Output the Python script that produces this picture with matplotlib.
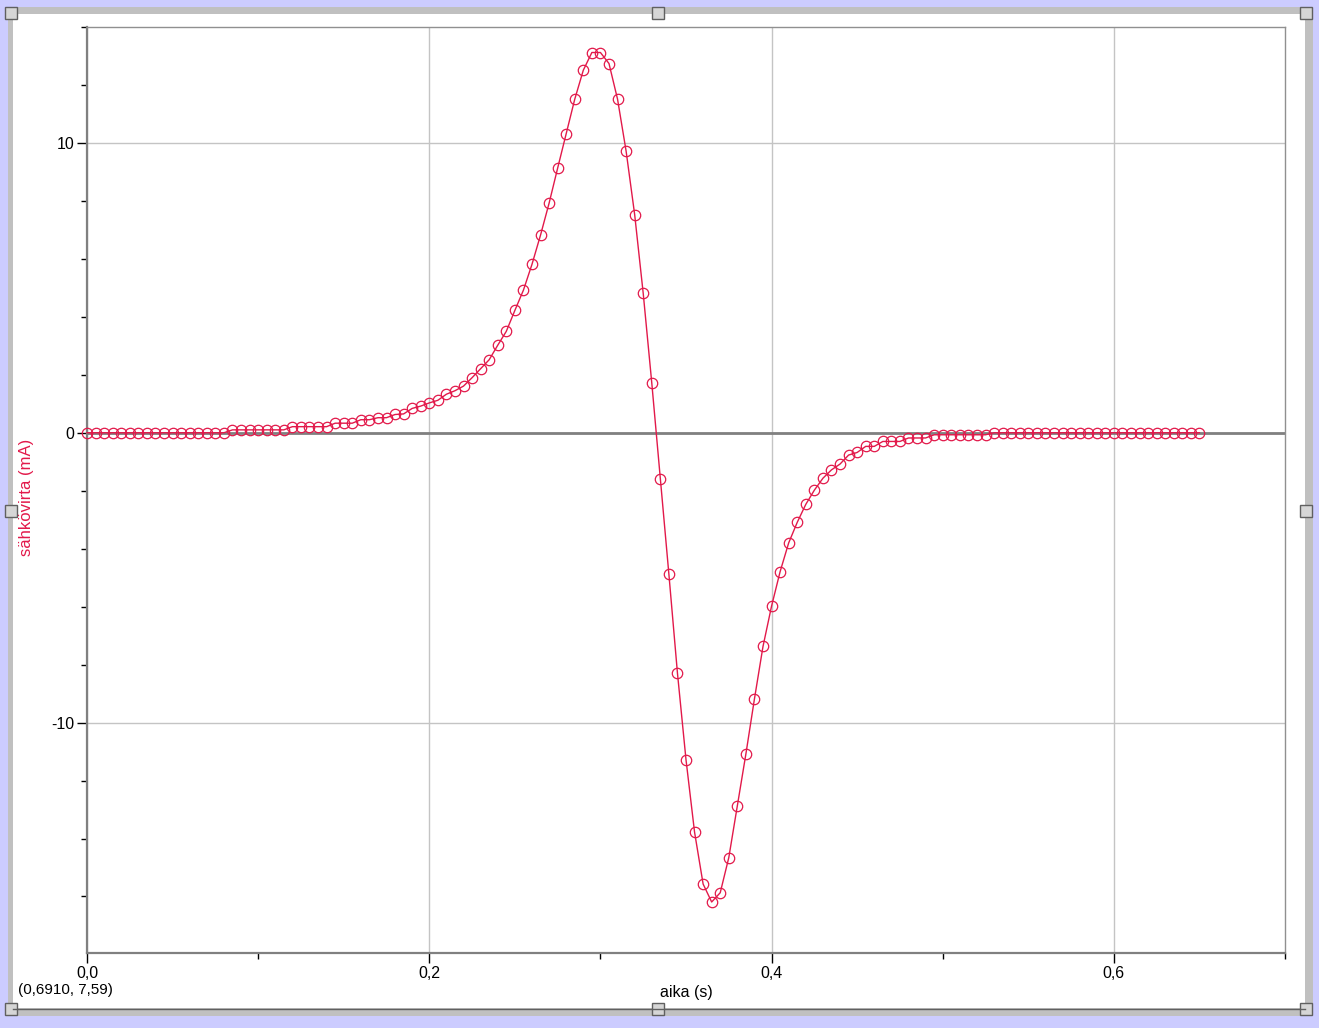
import matplotlib
matplotlib.use("Agg")
import matplotlib.pyplot as plt
from matplotlib.patches import Rectangle
from matplotlib.ticker import MultipleLocator, FixedLocator

plt.rcParams['font.family'] = ['Liberation Sans', 'DejaVu Sans']

# ---- data ----
time_s = [
    0.000, 0.005, 0.010, 0.015, 0.020, 0.025, 0.030, 0.035, 0.040, 0.045,
    0.050, 0.055, 0.060, 0.065, 0.070, 0.075, 0.080, 0.085, 0.090, 0.095,
    0.100, 0.105, 0.110, 0.115, 0.120, 0.125, 0.130, 0.135, 0.140, 0.145,
    0.150, 0.155, 0.160, 0.165, 0.170, 0.175, 0.180, 0.185, 0.190, 0.195,
    0.200, 0.205, 0.210, 0.215, 0.220, 0.225, 0.230, 0.235, 0.240, 0.245,
    0.250, 0.255, 0.260, 0.265, 0.270, 0.275, 0.280, 0.285, 0.290, 0.295,
    0.300, 0.305, 0.310, 0.315, 0.320, 0.325, 0.330, 0.335, 0.340, 0.345,
    0.350, 0.355, 0.360, 0.365, 0.370, 0.375, 0.380, 0.385, 0.390, 0.395,
    0.400, 0.405, 0.410, 0.415, 0.420, 0.425, 0.430, 0.435, 0.440, 0.445,
    0.450, 0.455, 0.460, 0.465, 0.470, 0.475, 0.480, 0.485, 0.490, 0.495,
    0.500, 0.505, 0.510, 0.515, 0.520, 0.525, 0.530, 0.535, 0.540, 0.545,
    0.550, 0.555, 0.560, 0.565, 0.570, 0.575, 0.580, 0.585, 0.590, 0.595,
    0.600, 0.605, 0.610, 0.615, 0.620, 0.625, 0.630, 0.635, 0.640, 0.645,
    0.650,
]
current_mA = [
    0.00, 0.00, 0.00, 0.00, 0.00, 0.00, 0.00, 0.00, 0.00, 0.00,
    0.00, 0.00, 0.00, 0.00, 0.00, 0.00, 0.00, 0.10, 0.10, 0.10,
    0.10, 0.10, 0.10, 0.10, 0.21, 0.21, 0.21, 0.21, 0.21, 0.33,
    0.33, 0.33, 0.45, 0.45, 0.52, 0.52, 0.63, 0.65, 0.84, 0.92,
    1.03, 1.12, 1.33, 1.45, 1.61, 1.90, 2.21, 2.52, 3.02, 3.50,
    4.22, 4.92, 5.81, 6.82, 7.92, 9.13, 10.32, 11.51, 12.51, 13.12,
    13.12, 12.74, 11.51, 9.72, 7.53, 4.81, 1.72, -1.58, -4.88, -8.29,
    -11.28, -13.78, -15.57, -16.19, -15.87, -14.66, -12.87, -11.08, -9.18, -7.37,
    -5.98, -4.79, -3.80, -3.09, -2.47, -1.98, -1.57, -1.28, -1.08, -0.77,
    -0.68, -0.47, -0.47, -0.30, -0.30, -0.30, -0.18, -0.18, -0.18, -0.07,
    -0.07, -0.07, -0.07, -0.07, -0.07, -0.07, 0.00, 0.00, 0.00, 0.00,
    0.00, 0.00, 0.00, 0.00, 0.00, 0.00, 0.00, 0.00, 0.00, 0.00,
    0.00, 0.00, 0.00, 0.00, 0.00, 0.00, 0.00, 0.00, 0.00, 0.00,
    0.00,
]
x_major_ticks = [0.0, 0.2, 0.4, 0.6]
x_tick_labels = ["0,0", "0,2", "0,4", "0,6"]
y_major_ticks = [-10, 0, 10]
y_tick_labels = ["-10", "0", "10"]
x_label = "aika (s)"
y_label = "sähkövirta (mA)"
coord_text = "(0,6910, 7,59)"

W, H = 1319, 1028
RED = '#E2194A'

fig = plt.figure(figsize=(W / 100, H / 100), dpi=100, facecolor='#CCCCFF')

# ---- window frame (background) ----
bg = fig.add_axes([0, 0, 1, 1], zorder=-5)
bg.set_xlim(0, W)
bg.set_ylim(H, 0)
bg.axis('off')
bg.add_patch(Rectangle((8, 7), 1313 - 8, 1016 - 7, facecolor='#C0C0C0', edgecolor='none'))
bg.add_patch(Rectangle((13, 14), 1305 - 13, 1008 - 14, facecolor='white', edgecolor='none'))
bg.plot([13, 1305], [1009, 1009], color='#606060', lw=1)
for hx in (5, 652, 1300):
    for hy in (7, 505, 1003):
        if hx == 652 and hy == 505:
            continue
        bg.add_patch(Rectangle((hx, hy), 12, 12, facecolor='#D6D6D6',
                               edgecolor='#606060', lw=1))

# ---- main axes ----
L, R, T, B = 87, 1285, 27, 953
ax = fig.add_axes([L / W, (H - B) / H, (R - L) / W, (B - T) / H])
ax.set_facecolor('white')
ax.set_xlim(0, 0.7)
ax.set_ylim(-17.95, 14.0)

for sp in ('left', 'bottom'):
    ax.spines[sp].set_color('#808080')
    ax.spines[sp].set_linewidth(1.6)
for sp in ('top', 'right'):
    ax.spines[sp].set_color('#909090')
    ax.spines[sp].set_linewidth(1.0)

ax.xaxis.set_major_locator(FixedLocator(x_major_ticks))
ax.xaxis.set_minor_locator(MultipleLocator(0.1))
ax.yaxis.set_major_locator(FixedLocator(y_major_ticks))
ax.yaxis.set_minor_locator(MultipleLocator(2))
ax.set_xticklabels(x_tick_labels)
ax.set_yticklabels(y_tick_labels)

ax.tick_params(which='major', length=7, width=1, color='black', labelsize=11.5,
               labelcolor='black', pad=2)
ax.tick_params(which='minor', length=4, width=1, color='black')

ax.grid(True, which='major', color='#C4C4C4', lw=1)
ax.set_axisbelow(True)
ax.axhline(0, color='#808080', lw=2, zorder=1.5)

ax.plot(time_s, current_mA, color=RED, lw=1.0, marker='o', markersize=7.5,
        markerfacecolor='none', markeredgecolor=RED, markeredgewidth=0.9, zorder=3,
        clip_on=False)

fig.text(686 / W, 1 - 993 / H, x_label, ha='center', va='center', fontsize=11.5,
         color='black')
fig.text(27 / W, 1 - 497 / H, y_label, ha='center', va='center', fontsize=12,
         color=RED, rotation=90)
fig.text(18 / W, 1 - 990 / H, coord_text, ha='left', va='center', fontsize=11,
         color='black')

fig.savefig('out.png', dpi=100, facecolor=fig.get_facecolor())
